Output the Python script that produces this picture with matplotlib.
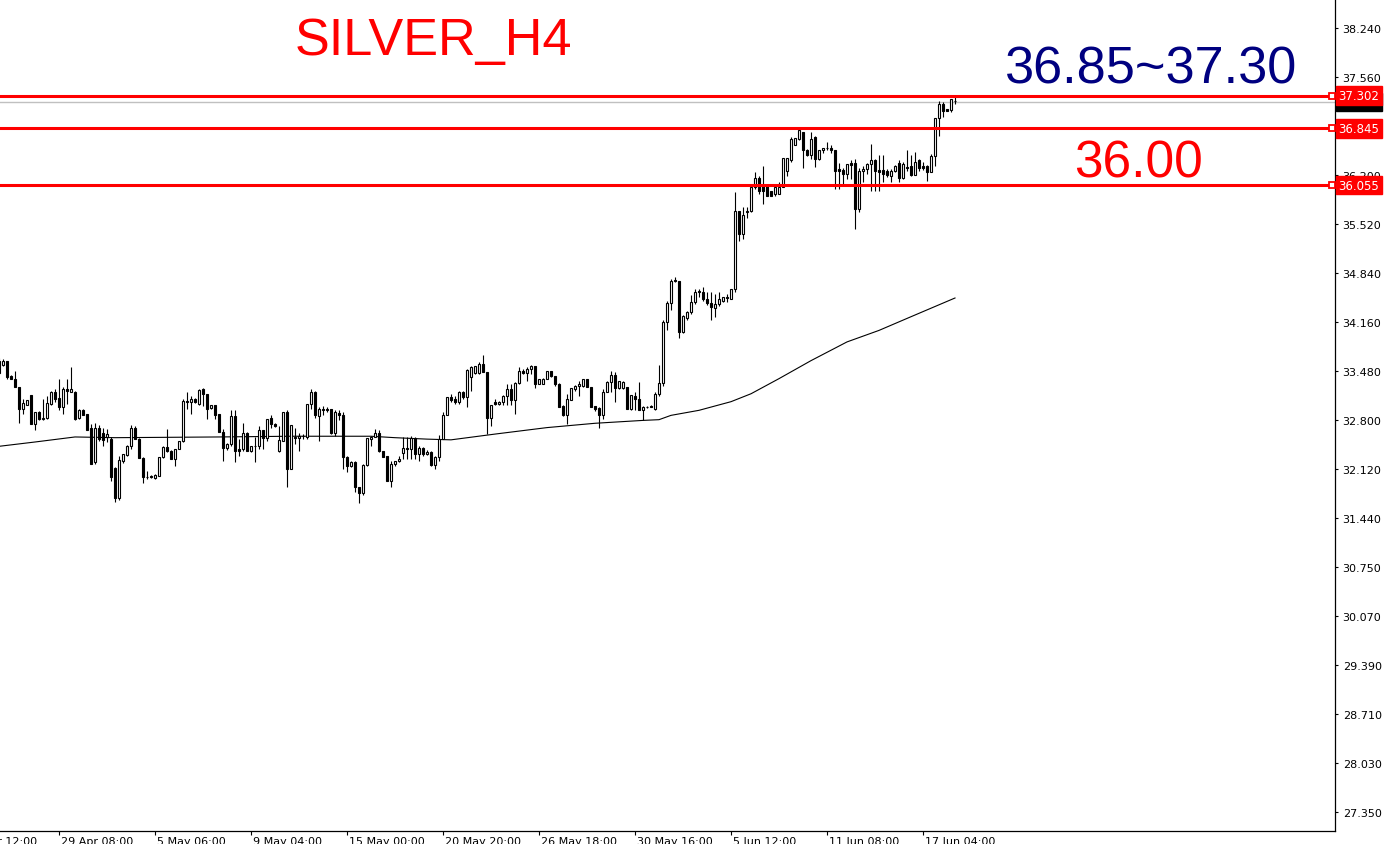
import matplotlib
matplotlib.use('Agg')
import matplotlib.pyplot as plt
import matplotlib.transforms as mtransforms
import numpy as np

# Donnees (bougies H4, SILVER)
opens = [33.62, 33.56, 33.61, 33.41, 33.37, 33.25, 32.95, 33.01, 33.14, 32.74,
         32.90, 32.81, 32.83, 33.02, 33.18, 33.10, 32.97, 33.23, 33.18, 33.19,
         32.82, 32.94, 32.88, 32.69, 32.21, 32.69, 32.62, 32.56, 32.53, 32.13,
         31.71, 32.23, 32.31, 32.43, 32.68, 32.53, 32.27, 32.01, 32.02, 31.99,
         32.02, 32.28, 32.42, 32.37, 32.26, 32.39, 32.51, 33.06, 33.04, 33.09,
         33.02, 33.22, 33.16, 32.96, 33.00, 32.88, 32.63, 32.40, 32.46, 32.85,
         32.39, 32.39, 32.62, 32.37, 32.43, 32.43, 32.66, 32.54, 32.82, 32.74,
         32.37, 32.51, 32.90, 32.12, 32.56, 32.54, 32.57, 32.56, 33.02, 33.18,
         32.85, 32.95, 32.95, 32.95, 32.62, 32.89, 32.86, 32.28, 32.15, 32.21,
         31.86, 31.78, 32.17, 32.53, 32.56, 32.62, 32.36, 32.30, 31.95, 32.18,
         32.22, 32.34, 32.40, 32.39, 32.54, 32.32, 32.40, 32.33, 32.35, 32.17,
         32.28, 32.53, 32.87, 33.11, 33.09, 33.04, 33.19, 33.11, 33.39, 33.45,
         33.45, 33.57, 33.46, 32.83, 33.04, 33.02, 33.04, 33.13, 33.23, 33.08,
         33.31, 33.48, 33.45, 33.51, 33.54, 33.30, 33.30, 33.37, 33.48, 33.40,
         33.30, 32.99, 32.86, 33.08, 33.23, 33.27, 33.27, 33.36, 33.26, 32.99,
         32.96, 32.86, 33.19, 33.32, 33.42, 33.24, 33.24, 33.25, 32.95, 33.13,
         33.09, 32.93, 32.98, 32.99, 32.95, 33.16, 33.31, 34.15, 34.42, 34.74,
         34.73, 34.02, 34.21, 34.30, 34.43, 34.59, 34.58, 34.48, 34.42, 34.35,
         34.41, 34.45, 34.50, 34.48, 34.61, 35.70, 35.38, 35.68, 35.70, 36.03,
         36.15, 36.04, 36.04, 35.98, 35.93, 35.94, 36.03, 36.25, 36.41, 36.62,
         36.70, 36.79, 36.54, 36.48, 36.72, 36.42, 36.54, 36.57, 36.58, 36.54,
         36.28, 36.27, 36.21, 36.36, 36.37, 35.72, 36.25, 36.28, 36.35, 36.40,
         36.27, 36.27, 36.25, 36.19, 36.25, 36.37, 36.15, 36.31, 36.32, 36.20,
         36.40, 36.32, 36.32, 36.24, 36.46, 36.99, 37.19, 37.12, 37.10, 37.23]
highs = [33.65, 33.64, 33.62, 33.42, 33.48, 33.25, 33.09, 33.08, 33.14, 32.90,
         32.92, 33.09, 33.13, 33.20, 33.23, 33.37, 33.25, 33.37, 33.53, 33.20,
         32.95, 32.95, 32.88, 32.74, 32.76, 32.72, 32.68, 32.67, 32.56, 32.14,
         32.30, 32.33, 32.45, 32.72, 32.71, 32.55, 32.28, 32.09, 32.03, 32.04,
         32.28, 32.43, 32.67, 32.38, 32.39, 32.50, 33.09, 33.18, 33.13, 33.10,
         33.22, 33.24, 33.16, 33.01, 33.00, 32.88, 32.67, 32.47, 32.93, 32.93,
         32.53, 32.75, 32.63, 32.43, 32.56, 32.71, 32.66, 32.81, 32.87, 32.75,
         32.71, 32.90, 32.93, 32.72, 32.69, 32.62, 32.60, 33.02, 33.23, 33.20,
         32.97, 32.99, 32.97, 32.95, 32.93, 32.93, 32.90, 32.30, 32.23, 32.23,
         31.86, 32.18, 32.54, 32.57, 32.67, 32.66, 32.36, 32.30, 32.23, 32.23,
         32.29, 32.56, 32.56, 32.57, 32.56, 32.44, 32.42, 32.38, 32.37, 32.30,
         32.59, 32.90, 33.11, 33.16, 33.13, 33.20, 33.20, 33.51, 33.54, 33.55,
         33.60, 33.70, 33.46, 33.00, 33.09, 33.06, 33.14, 33.30, 33.30, 33.33,
         33.53, 33.50, 33.53, 33.56, 33.54, 33.37, 33.38, 33.47, 33.48, 33.41,
         33.31, 33.00, 33.16, 33.24, 33.28, 33.34, 33.37, 33.37, 33.26, 32.99,
         32.97, 33.23, 33.34, 33.47, 33.46, 33.34, 33.34, 33.25, 33.14, 33.18,
         33.32, 32.99, 32.99, 33.00, 33.18, 33.56, 34.18, 34.45, 34.76, 34.78,
         34.73, 34.25, 34.31, 34.53, 34.62, 34.62, 34.64, 34.57, 34.57, 34.55,
         34.57, 34.50, 34.55, 34.61, 35.96, 35.70, 35.75, 35.75, 36.05, 36.24,
         36.19, 36.32, 36.06, 35.98, 36.04, 36.10, 36.43, 36.44, 36.72, 36.71,
         36.84, 36.79, 36.56, 36.80, 36.74, 36.54, 36.58, 36.65, 36.61, 36.54,
         36.37, 36.29, 36.35, 36.40, 36.42, 36.29, 36.33, 36.36, 36.63, 36.42,
         36.47, 36.47, 36.28, 36.28, 36.34, 36.40, 36.38, 36.54, 36.47, 36.52,
         36.42, 36.38, 36.34, 36.49, 36.99, 37.22, 37.21, 37.12, 37.26, 37.28]
lows = [33.44, 33.55, 33.37, 33.36, 33.25, 32.76, 32.88, 33.00, 32.74, 32.65,
        32.80, 32.79, 32.81, 33.00, 33.04, 32.93, 32.88, 33.02, 33.18, 32.79,
        32.81, 32.86, 32.65, 32.18, 32.19, 32.51, 32.44, 32.49, 31.95, 31.65,
        31.68, 32.20, 32.30, 32.39, 32.53, 32.27, 31.92, 31.98, 31.99, 31.98,
        32.02, 32.27, 32.35, 32.25, 32.16, 32.39, 32.49, 32.95, 32.88, 33.03,
        33.00, 32.99, 32.81, 32.95, 32.81, 32.63, 32.22, 32.38, 32.44, 32.21,
        32.30, 32.37, 32.37, 32.35, 32.21, 32.39, 32.39, 32.51, 32.68, 32.70,
        32.35, 32.51, 31.86, 32.12, 32.46, 32.37, 32.53, 32.53, 32.95, 32.83,
        32.51, 32.86, 32.90, 32.60, 32.58, 32.79, 32.12, 32.07, 32.14, 31.79,
        31.64, 31.75, 32.16, 32.44, 32.56, 32.35, 32.28, 31.95, 31.86, 32.16,
        32.21, 32.26, 32.26, 32.26, 32.26, 32.22, 32.30, 32.31, 32.16, 32.12,
        32.23, 32.53, 32.86, 33.04, 33.02, 33.02, 33.09, 32.97, 33.20, 33.44,
        33.44, 33.46, 32.60, 32.71, 33.00, 33.00, 33.00, 33.00, 33.00, 32.88,
        33.30, 33.43, 33.34, 33.43, 33.24, 33.29, 33.29, 33.36, 33.39, 33.27,
        32.97, 32.85, 32.74, 33.07, 33.20, 33.13, 33.25, 33.26, 32.97, 32.92,
        32.69, 32.81, 33.18, 33.18, 33.05, 33.23, 33.23, 32.95, 32.93, 32.93,
        32.93, 32.79, 32.96, 32.97, 32.94, 33.13, 33.27, 34.04, 34.33, 34.71,
        33.94, 34.00, 34.18, 34.27, 34.41, 34.50, 34.45, 34.39, 34.18, 34.22,
        34.38, 34.44, 34.43, 34.48, 34.58, 35.28, 35.31, 35.60, 35.69, 36.00,
        35.93, 35.80, 35.91, 35.91, 35.91, 35.93, 36.03, 36.19, 36.38, 36.61,
        36.68, 36.29, 36.46, 36.42, 36.31, 36.41, 36.50, 36.54, 36.50, 36.01,
        36.01, 36.07, 36.14, 36.14, 35.45, 35.68, 36.10, 36.21, 35.98, 35.98,
        35.98, 36.10, 36.17, 36.10, 36.24, 36.10, 36.14, 36.26, 36.19, 36.20,
        36.26, 36.27, 36.12, 36.24, 36.33, 36.74, 37.01, 37.09, 37.07, 37.19]
closes = [33.45, 33.61, 33.39, 33.37, 33.25, 32.95, 33.03, 33.07, 32.74, 32.90,
          32.81, 32.83, 33.03, 33.18, 33.09, 32.97, 33.23, 33.20, 33.23, 32.81,
          32.94, 32.87, 32.65, 32.19, 32.69, 32.53, 32.52, 32.60, 32.01, 31.71,
          32.24, 32.32, 32.44, 32.68, 32.53, 32.27, 32.00, 32.00, 32.00, 32.03,
          32.28, 32.42, 32.37, 32.26, 32.39, 32.50, 33.06, 33.04, 33.09, 33.04,
          33.21, 33.16, 32.95, 33.00, 32.87, 32.63, 32.40, 32.46, 32.85, 32.36,
          32.37, 32.62, 32.37, 32.43, 32.43, 32.66, 32.54, 32.81, 32.74, 32.71,
          32.52, 32.90, 32.12, 32.72, 32.55, 32.57, 32.57, 33.02, 33.18, 32.86,
          32.95, 32.93, 32.93, 32.62, 32.90, 32.86, 32.28, 32.15, 32.21, 31.86,
          31.78, 32.17, 32.54, 32.56, 32.62, 32.36, 32.28, 31.95, 32.18, 32.22,
          32.26, 32.40, 32.39, 32.54, 32.32, 32.40, 32.32, 32.35, 32.17, 32.28,
          32.53, 32.87, 33.11, 33.07, 33.04, 33.18, 33.11, 33.49, 33.53, 33.54,
          33.57, 33.46, 32.83, 33.00, 33.02, 33.05, 33.13, 33.23, 33.08, 33.31,
          33.47, 33.45, 33.51, 33.55, 33.30, 33.36, 33.37, 33.47, 33.40, 33.30,
          32.97, 32.86, 33.09, 33.24, 33.27, 33.30, 33.36, 33.26, 32.97, 32.95,
          32.86, 33.19, 33.33, 33.42, 33.24, 33.34, 33.33, 32.95, 33.14, 33.09,
          32.93, 32.97, 32.98, 32.97, 33.16, 33.31, 34.15, 34.42, 34.73, 34.72,
          34.02, 34.24, 34.30, 34.43, 34.58, 34.57, 34.47, 34.42, 34.36, 34.41,
          34.48, 34.50, 34.49, 34.61, 35.70, 35.38, 35.64, 35.70, 36.03, 36.15,
          35.98, 35.98, 35.91, 35.91, 36.03, 36.03, 36.43, 36.43, 36.70, 36.71,
          36.82, 36.54, 36.48, 36.70, 36.42, 36.54, 36.58, 36.58, 36.54, 36.25,
          36.25, 36.21, 36.35, 36.34, 35.72, 36.26, 36.28, 36.35, 36.40, 36.25,
          36.24, 36.21, 36.20, 36.26, 36.32, 36.15, 36.35, 36.29, 36.20, 36.38,
          36.29, 36.29, 36.24, 36.46, 36.99, 37.19, 37.09, 37.09, 37.25, 37.22]

# moyenne mobile
ma_idx = [-1, 8, 18, 28, 54, 72, 92, 98, 106, 112, 123, 136, 148, 160, 164,
          167, 174, 182, 187, 191, 194, 202, 211, 219, 227, 238]
ma_val = [32.43, 32.49, 32.56, 32.55, 32.56, 32.57, 32.57, 32.55, 32.53, 32.52,
          32.60, 32.69, 32.75, 32.79, 32.80, 32.86, 32.93, 33.05, 33.16, 33.28,
          33.37, 33.62, 33.88, 34.04, 34.23, 34.49]

# niveaux horizontaux
niveaux = [37.302, 36.845, 36.055]
bid = 37.217

# axe des prix et axe du temps
prix_ticks = [38.24, 37.56, 36.88, 36.20, 35.52, 34.84, 34.16, 33.48, 32.80,
              32.12, 31.44, 30.75, 30.07, 29.39, 28.71, 28.03, 27.35]
date_idx = [-10, 14, 38, 62, 86, 110, 134, 158, 182, 206, 230]
date_labels = ['25 Apr 12:00', '29 Apr 08:00', '5 May 06:00', '9 May 04:00',
               '15 May 00:00', '20 May 20:00', '26 May 18:00', '30 May 16:00',
               '5 Jun 12:00', '11 Jun 08:00', '17 Jun 04:00']

W, H = 1392, 845
fig = plt.figure(figsize=(W / 100, H / 100), dpi=100)
ax = fig.add_axes([0, 1 - 832 / H, 1335 / W, 832 / H])

o = np.array(opens)
h = np.array(highs)
l = np.array(lows)
c = np.array(closes)
x = np.arange(len(o)) - 1

# meches puis corps
ax.vlines(x, l, h, color='black', lw=0.8, zorder=2)
bas = np.minimum(o, c)
haut = np.abs(c - o)
couleurs = np.where(c >= o, 'white', 'black')
ax.bar(x, haut, bottom=bas, width=0.55, color=couleurs, edgecolor='black',
       linewidth=0.8, zorder=3)

ax.plot(ma_idx, ma_val, color='black', lw=0.8, zorder=2)

ax.axhline(bid, color='#c0c0c0', lw=1, zorder=1)
for niv in niveaux:
    ax.axhline(niv, color='red', lw=2.2, zorder=4)

ax.set_xlim(-0.75, 333)
ax.set_ylim(38.24 - 803 / 72.0, 38.24 + 29 / 72.0)

ax.spines['top'].set_visible(False)
ax.spines['left'].set_visible(False)
ax.spines['right'].set_linewidth(0.9)
ax.spines['bottom'].set_linewidth(0.9)

ax.yaxis.tick_right()
ax.set_yticks(prix_ticks)
ax.set_yticklabels(['%.3f' % p for p in prix_ticks])
ax.tick_params(axis='y', direction='out', length=2.5, width=0.8, pad=3,
               labelsize=8)
ax.set_xticks(date_idx[1:])
ax.set_xticklabels([])
ax.tick_params(axis='x', direction='out', length=3, width=0.8)

trans_x = mtransforms.blended_transform_factory(ax.transData, ax.transAxes)
for i, lab in zip(date_idx, date_labels):
    ax.text(i + 0.6, -5 / 832, lab, transform=trans_x, ha='left', va='top',
            fontsize=8, clip_on=False)

# etiquettes de prix a droite
trans_y = mtransforms.blended_transform_factory(ax.transAxes, ax.transData)
ax.text(1.0025, bid, '%.3f' % bid, transform=trans_y, ha='left', va='center',
        fontsize=8.5, color='white', clip_on=False, zorder=5,
        bbox=dict(boxstyle='square,pad=0.22', fc='black', ec='black'))
for niv in niveaux:
    ax.text(1.0025, niv, '%.3f' % niv, transform=trans_y, ha='left',
            va='center', fontsize=8.5, color='white', clip_on=False, zorder=6,
            bbox=dict(boxstyle='square,pad=0.22', fc='red', ec='red'))
    ax.plot([0.9975], [niv], transform=trans_y, marker='s', ms=4, mfc='white',
            mec='red', mew=1.3, clip_on=False, zorder=6)

# textes
fig.text(295 / W, 1 - 55 / H, 'SILVER_H4', color='red', fontsize=37.6,
         family='Liberation Sans', ha='left', va='baseline')
fig.text(1005 / W, 1 - 84 / H, '36.85~37.30', color='#000080', fontsize=37.7,
         family='Liberation Sans', ha='left', va='baseline')
fig.text(1074 / W, 1 - 178 / H, '36.00', color='red', fontsize=37,
         family='Liberation Sans', ha='left', va='baseline')

fig.savefig('out.png', dpi=100)
